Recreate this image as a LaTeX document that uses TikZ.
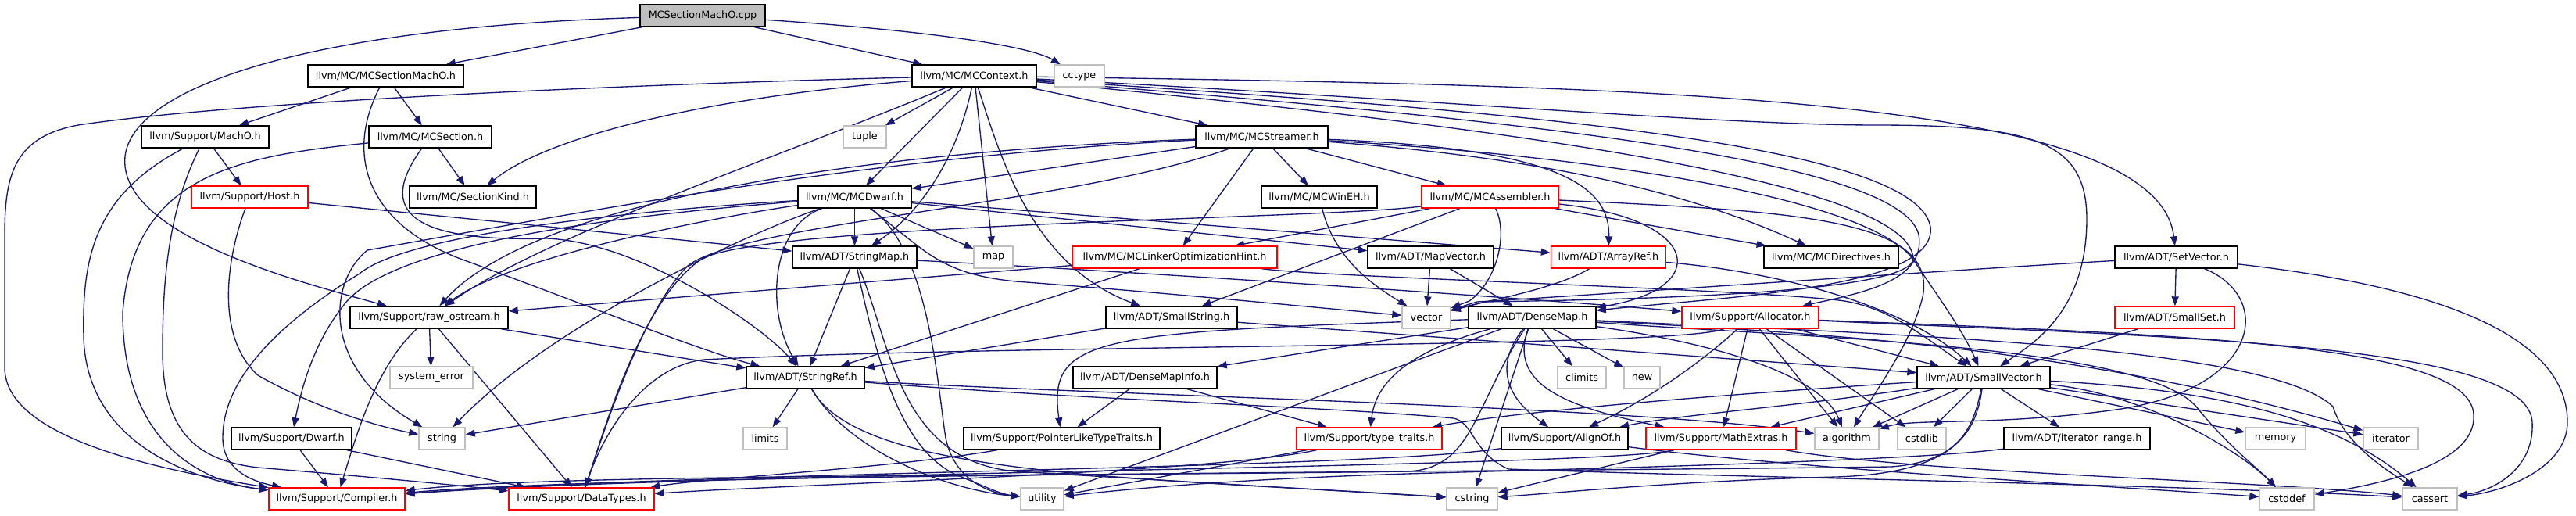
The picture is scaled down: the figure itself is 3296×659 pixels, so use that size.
\documentclass[tikz,border=0pt]{standalone}
\usepackage{fontspec}
\setmainfont{DejaVu Sans}
\usetikzlibrary{arrows.meta}
\definecolor{edgeblue}{HTML}{191970}
\definecolor{sysgray}{HTML}{BFBFBF}
\definecolor{truncred}{HTML}{FF0000}
\pgfdeclarelayer{edges}
\pgfsetlayers{edges,main}
\begin{document}
\begin{tikzpicture}[x=1pt,y=-1pt,
  nb/.style={rectangle, minimum height=28pt, inner sep=0pt, font=\fontsize{12.8}{15}\selectfont, fill=white, text=black},
  blk/.style={nb, draw=black, line width=1.4pt},
  trn/.style={nb, draw=truncred, line width=1.4pt},
  sys/.style={nb, draw=sysgray, line width=1.4pt},
  lnk/.style={draw=edgeblue, line width=1.35pt, -{Triangle[length=12pt,width=9pt]}},
]
\useasboundingbox (0,0) rectangle (3296,659);
% ---------- nodes ----------
\node[blk, fill=sysgray, minimum width=160pt] (cpp) at (899,20) {MCSectionMachO.cpp};
\node[blk, minimum width=199pt] (secmh) at (493.5,97) {llvm/MC/MCSectionMachO.h};
\node[blk, minimum width=159pt] (ctx) at (1246.5,97) {llvm/MC/MCContext.h};
\node[sys, minimum width=64pt] (cctype) at (1381,97) {cctype};
\node[blk, minimum width=163pt] (macho) at (262.5,175) {llvm/Support/MachO.h};
\node[blk, minimum width=157pt] (mcsec) at (550.5,175) {llvm/MC/MCSection.h};
\node[sys, minimum width=55pt] (tuple) at (1106.5,175) {tuple};
\node[blk, minimum width=169pt] (strm) at (1614.5,175) {llvm/MC/MCStreamer.h};
\node[trn, minimum width=149pt] (host) at (319.5,252) {llvm/Support/Host.h};
\node[blk, minimum width=162pt] (seck) at (605,252) {llvm/MC/SectionKind.h};
\node[blk, minimum width=145pt] (dwarf) at (1093.5,252) {llvm/MC/MCDwarf.h};
\node[blk, minimum width=148pt] (wineh) at (1688,252) {llvm/MC/MCWinEH.h};
\node[trn, minimum width=175pt] (asm) at (1906.5,252) {llvm/MC/MCAssembler.h};
\node[blk, minimum width=159pt] (smap) at (1093.5,329) {llvm/ADT/StringMap.h};
\node[sys, minimum width=50pt] (map) at (1271,329) {map};
\node[trn, minimum width=262pt] (loh) at (1503,329) {llvm/MC/MCLinkerOptimizationHint.h};
\node[blk, minimum width=161pt] (mapv) at (1830.5,329) {llvm/ADT/MapVector.h};
\node[trn, minimum width=147pt] (aref) at (2058,329) {llvm/ADT/ArrayRef.h};
\node[blk, minimum width=172pt] (dir) at (2343,329) {llvm/MC/MCDirectives.h};
\node[blk, minimum width=157pt] (setv) at (2784.5,329) {llvm/ADT/SetVector.h};
\node[blk, minimum width=202pt] (raw) at (549,406) {llvm/Support/raw\_ostream.h};
\node[blk, minimum width=168pt] (sstr) at (1499,406) {llvm/ADT/SmallString.h};
\node[sys, minimum width=62pt] (vector) at (1825,406) {vector};
\node[blk, minimum width=163pt] (dmap) at (1960.5,406) {llvm/ADT/DenseMap.h};
\node[trn, minimum width=175pt] (alloc) at (2239.5,406) {llvm/Support/Allocator.h};
\node[trn, minimum width=153pt] (sset) at (2782.5,406) {llvm/ADT/SmallSet.h};
\node[sys, minimum width=106pt] (syserr) at (552,483) {system\_error};
\node[blk, minimum width=151pt] (sref) at (1030.5,483) {llvm/ADT/StringRef.h};
\node[blk, minimum width=184pt] (dmi) at (1465,483) {llvm/ADT/DenseMapInfo.h};
\node[sys, minimum width=62pt] (climits) at (2024,483) {climits};
\node[sys, minimum width=46pt] (new) at (2101,483) {new};
\node[blk, minimum width=170pt] (svec) at (2538,483) {llvm/ADT/SmallVector.h};
\node[blk, minimum width=154pt] (sdwarf) at (373,561) {llvm/Support/Dwarf.h};
\node[sys, minimum width=59pt] (string) at (565.5,561) {string};
\node[sys, minimum width=56pt] (limits) at (979,561) {limits};
\node[blk, minimum width=251pt] (pltt) at (1358.5,561) {llvm/Support/PointerLikeTypeTraits.h};
\node[trn, minimum width=186pt] (tt) at (1752,561) {llvm/Support/type\_traits.h};
\node[blk, minimum width=162pt] (alignof) at (2002,561) {llvm/Support/AlignOf.h};
\node[trn, minimum width=192pt] (mathx) at (2202,561) {llvm/Support/MathExtras.h};
\node[sys, minimum width=82pt] (algorithm) at (2363,561) {algorithm};
\node[sys, minimum width=62pt] (cstdlib) at (2459,561) {cstdlib};
\node[blk, minimum width=187pt] (irange) at (2657.5,561) {llvm/ADT/iterator\_range.h};
\node[sys, minimum width=77pt] (memory) at (2911.5,561) {memory};
\node[sys, minimum width=70pt] (iterator) at (3059,561) {iterator};
\node[trn, minimum width=174pt] (comp) at (431,638) {llvm/Support/Compiler.h};
\node[trn, minimum width=186pt] (dtypes) at (744,638) {llvm/Support/DataTypes.h};
\node[sys, minimum width=55pt] (utility) at (1333.5,638) {utility};
\node[sys, minimum width=65pt] (cstring) at (1883.5,638) {cstring};
\node[sys, minimum width=70pt] (cstddef) at (2926,638) {cstddef};
\node[sys, minimum width=70pt] (cassert) at (3109,638) {cassert};
% ---------- edges ----------
\begin{pgfonlayer}{edges}
\fill[white] (0,0) rectangle (3296,659);
% cpp
\draw[lnk] (cpp) -- (secmh);
\draw[lnk] (cpp) -- (ctx);
\draw[lnk] (cpp) .. controls (1200,40) and (1320,60) .. (cctype);
\draw[lnk] (cpp) .. controls (400,35) and (170,110) .. (160,200) .. controls (150,300) and (380,360) .. (raw);
% MCSectionMachO.h
\draw[lnk] (secmh) -- (macho);
\draw[lnk] (secmh) -- (mcsec);
\draw[lnk] (secmh) .. controls (440,200) and (470,290) .. (600,335) .. controls (750,390) and (900,450) .. (sref);
% MCSection.h
\draw[lnk] (mcsec) -- (seck);
\draw[lnk] (mcsec) .. controls (300,200) and (170,225) .. (157,400) .. controls (157,560) and (250,615) .. (comp);
\draw[lnk] (mcsec) .. controls (485,265) and (515,310) .. (700,305) .. controls (820,310) and (980,420) .. (sref);
% MachO.h
\draw[lnk] (macho) -- (host);
\draw[lnk] (macho) .. controls (120,250) and (105,330) .. (107,430) .. controls (110,570) and (250,615) .. (comp);
\draw[lnk] (macho) .. controls (215,270) and (208,360) .. (208,450) .. controls (208,560) and (260,590) .. (330,598) .. controls (450,608) and (560,618) .. (dtypes);
% Host.h
\draw[lnk] (host) -- (smap);
\draw[lnk] (host) .. controls (290,330) and (275,430) .. (330,480) .. controls (400,520) and (480,545) .. (string);
% MCContext.h
\draw[lnk] (ctx) .. controls (800,108) and (300,130) .. (100,160) .. controls (20,175) and (6,220) .. (6,300) -- (6,470) .. controls (6,560) and (200,600) .. (comp);
\draw[lnk] (ctx) .. controls (900,125) and (700,175) .. (seck);
\draw[lnk] (ctx) .. controls (1000,200) and (700,300) .. (raw);
\draw[lnk] (ctx) -- (tuple);
\draw[lnk] (ctx) -- (dwarf);
\draw[lnk] (ctx) .. controls (1225,200) and (1180,270) .. (smap);
\draw[lnk] (ctx) -- (map);
\draw[lnk] (ctx) .. controls (1280,200) and (1320,340) .. (sstr);
\draw[lnk] (ctx) -- (strm);
\draw[lnk] (ctx) .. controls (2100,110) and (2760,120) .. (setv);
\draw[lnk] (ctx) .. controls (1800,125) and (2200,160) .. (2400,160) .. controls (2600,160) and (2670,180) .. (2670,280) .. controls (2670,400) and (2600,440) .. (svec);
\draw[lnk] (ctx) .. controls (1900,140) and (2450,180) .. (2470,290) .. controls (2480,370) and (2200,380) .. (dmap);
\draw[lnk] (ctx) .. controls (1900,150) and (2430,200) .. (2455,300) .. controls (2465,360) and (2380,375) .. (alloc);
\draw[lnk] (ctx) .. controls (1900,160) and (2440,230) .. (2448,330) .. controls (2450,375) and (2100,383) .. (1900,386) -- (vector);
% MCStreamer.h
\draw[lnk] (strm) -- (dwarf);
\draw[lnk] (strm) .. controls (1200,190) and (700,240) .. (raw);
\draw[lnk] (strm) .. controls (1100,200) and (700,280) .. (470,320) .. controls (420,360) and (410,470) .. (string);
\draw[lnk] (strm) .. controls (1380,260) and (950,285) .. (880,340) .. controls (820,400) and (770,560) .. (dtypes);
\draw[lnk] (strm) -- (loh);
\draw[lnk] (strm) -- (wineh);
\draw[lnk] (strm) -- (asm);
\draw[lnk] (strm) .. controls (2000,190) and (2060,240) .. (aref);
\draw[lnk] (strm) .. controls (1950,200) and (2150,240) .. (dir);
\draw[lnk] (strm) .. controls (2050,200) and (2400,255) .. (2450,335) .. controls (2480,380) and (2510,420) .. (svec);
% MCDwarf.h
\draw[lnk] (dwarf) -- (map);
\draw[lnk] (dwarf) -- (mapv);
\draw[lnk] (dwarf) -- (aref);
\draw[lnk] (dwarf) -- (smap);
\draw[lnk] (dwarf) .. controls (985,290) and (980,400) .. (sref);
\draw[lnk] (dwarf) .. controls (800,270) and (520,300) .. (460,350) .. controls (330,430) and (285,500) .. (285,560) .. controls (285,600) and (320,615) .. (comp);
\draw[lnk] (dwarf) .. controls (800,275) and (500,310) .. (440,390) .. controls (400,440) and (385,500) .. (sdwarf);
\draw[lnk] (dwarf) .. controls (900,280) and (650,330) .. (raw);
\draw[lnk] (dwarf) .. controls (950,300) and (700,420) .. (string);
\draw[lnk] (dwarf) .. controls (1190,320) and (1200,500) .. (1210,560) .. controls (1220,610) and (1260,630) .. (utility);
\draw[lnk] (dwarf) .. controls (1185,320) and (1200,350) .. (1300,360) .. controls (1500,375) and (1700,395) .. (vector);
% MCAssembler.h
\draw[lnk] (asm) -- (loh);
\draw[lnk] (asm) -- (sstr);
\draw[lnk] (asm) .. controls (1930,300) and (1915,360) .. (1880,385) -- (vector);
\draw[lnk] (asm) .. controls (2180,280) and (2190,370) .. (dmap);
\draw[lnk] (asm) -- (dir);
\draw[lnk] (asm) .. controls (2300,270) and (2480,280) .. (2460,380) .. controls (2445,440) and (2400,500) .. (algorithm);
\draw[lnk] (asm) .. controls (1700,280) and (1000,285) .. (900,330) .. controls (820,380) and (770,560) .. (dtypes);
% MCLinkerOptimizationHint.h
\draw[lnk] (loh) -- (raw);
\draw[lnk] (loh) -- (sref);
\draw[lnk] (loh) .. controls (1700,355) and (2250,370) .. (2360,385) .. controls (2420,395) and (2460,430) .. (svec);
% SmallString.h
\draw[lnk] (sstr) -- (sref);
\draw[lnk] (sstr) -- (svec);
% StringMap.h
\draw[lnk] (smap) -- (sref);
\draw[lnk] (smap) .. controls (1500,350) and (2000,385) .. (alloc);
\draw[lnk] (smap) .. controls (1140,440) and (1150,590) .. (1300,603) .. controls (1500,615) and (1750,630) .. (cstring);
\draw[lnk] (smap) .. controls (1120,450) and (1150,580) .. (1230,610) .. controls (1260,622) and (1280,632) .. (utility);
% SetVector.h
\draw[lnk] (setv) -- (sset);
\draw[lnk] (setv) .. controls (2500,345) and (2000,380) .. (1890,386) -- (vector);
\draw[lnk] (setv) .. controls (3150,370) and (3285,440) .. (3285,540) .. controls (3285,600) and (3200,630) .. (cassert);
\draw[lnk] (setv) .. controls (2910,380) and (2895,500) .. (2700,525) .. controls (2550,545) and (2450,535) .. (algorithm);
% SmallSet.h
\draw[lnk] (sset) -- (svec);
% raw_ostream.h
\draw[lnk] (raw) -- (sref);
\draw[lnk] (raw) -- (syserr);
\draw[lnk] (raw) .. controls (480,470) and (455,560) .. (comp);
\draw[lnk] (raw) -- (dtypes);
% Support/Dwarf.h
\draw[lnk] (sdwarf) -- (comp);
\draw[lnk] (sdwarf) -- (dtypes);
% StringRef.h
\draw[lnk] (sref) -- (string);
\draw[lnk] (sref) -- (limits);
\draw[lnk] (sref) .. controls (1400,505) and (2100,520) .. (algorithm);
\draw[lnk] (sref) .. controls (1400,512) and (1700,520) .. (1860,535) .. controls (1885,540) and (1885,580) .. (1930,600) .. controls (2200,610) and (2800,620) .. (cassert);
\draw[lnk] (sref) .. controls (1100,610) and (1450,610) .. (cstring);
\draw[lnk] (sref) .. controls (1080,570) and (1200,625) .. (utility);
% DenseMap.h
\draw[lnk] (dmap) -- (dmi);
\draw[lnk] (dmap) .. controls (1400,425) and (1340,430) .. (pltt);
\draw[lnk] (dmap) .. controls (1800,450) and (1760,490) .. (tt);
\draw[lnk] (dmap) .. controls (1910,470) and (1930,510) .. (alignof);
\draw[lnk] (dmap) .. controls (1930,490) and (2000,520) .. (mathx);
\draw[lnk] (dmap) -- (climits);
\draw[lnk] (dmap) -- (new);
\draw[lnk] (dmap) .. controls (1885,520) and (1885,600) .. (1800,603) .. controls (1300,610) and (700,606) .. (comp);
\draw[lnk] (dmap) -- (utility);
\draw[lnk] (dmap) -- (cstring);
\draw[lnk] (dmap) .. controls (2300,425) and (2650,440) .. (iterator);
\draw[lnk] (dmap) .. controls (2300,432) and (2740,440) .. (2810,520) .. controls (2850,570) and (2890,600) .. (cstddef);
\draw[lnk] (dmap) .. controls (2400,427) and (2900,440) .. (2985,520) .. controls (3000,570) and (3060,605) .. (cassert);
\draw[lnk] (dmap) .. controls (2200,440) and (2330,480) .. (algorithm);
% SmallVector.h
\draw[lnk] (svec) -- (irange);
\draw[lnk] (svec) -- (cstdlib);
\draw[lnk] (svec) -- (algorithm);
\draw[lnk] (svec) -- (mathx);
\draw[lnk] (svec) -- (memory);
\draw[lnk] (svec) -- (iterator);
\draw[lnk] (svec) .. controls (2300,520) and (2150,530) .. (alignof);
\draw[lnk] (svec) .. controls (2200,505) and (1950,525) .. (tt);
\draw[lnk] (svec) .. controls (2525,545) and (2510,590) .. (2420,597) .. controls (1800,605) and (800,606) .. (comp);
\draw[lnk] (svec) .. controls (2528,555) and (2500,605) .. (2350,610) .. controls (2150,615) and (2000,630) .. (cstring);
\draw[lnk] (svec) .. controls (2750,505) and (2870,580) .. (cstddef);
\draw[lnk] (svec) .. controls (2870,500) and (3000,545) .. (cassert);
% Allocator.h
\draw[lnk] (alloc) -- (svec);
\draw[lnk] (alloc) .. controls (2180,460) and (2120,505) .. (alignof);
\draw[lnk] (alloc) -- (mathx);
\draw[lnk] (alloc) -- (algorithm);
\draw[lnk] (alloc) -- (cstdlib);
\draw[lnk] (alloc) .. controls (2150,445) and (1300,440) .. (900,460) .. controls (820,470) and (770,560) .. (dtypes);
\draw[lnk] (alloc) .. controls (2800,432) and (3235,440) .. (3240,540) .. controls (3243,600) and (3190,628) .. (cassert);
\draw[lnk] (alloc) .. controls (2800,428) and (3160,440) .. (3165,530) .. controls (3170,595) and (3040,620) .. (cstddef);
% AlignOf.h
\draw[lnk] (alignof) .. controls (1750,600) and (900,603) .. (comp);
\draw[lnk] (alignof) .. controls (2300,600) and (2750,625) .. (cstddef);
% MathExtras.h
\draw[lnk] (mathx) .. controls (2050,598) and (900,604) .. (comp);
\draw[lnk] (mathx) -- (cstring);
\draw[lnk] (mathx) .. controls (2450,605) and (2900,615) .. (cassert);
% DenseMapInfo.h
\draw[lnk] (dmi) -- (pltt);
\draw[lnk] (dmi) -- (tt);
% PointerLikeTypeTraits.h
\draw[lnk] (pltt) .. controls (1150,598) and (900,612) .. (dtypes);
% type_traits.h
\draw[lnk] (tt) -- (utility);
\draw[lnk] (tt) .. controls (1550,605) and (1000,620) .. (dtypes);
% iterator_range.h
\draw[lnk] (irange) .. controls (2450,590) and (2000,600) .. (1800,606) .. controls (1550,614) and (1420,628) .. (utility);
% ArrayRef.h
\draw[lnk] (aref) .. controls (1990,370) and (1900,385) .. (vector);
\draw[lnk] (aref) .. controls (2300,350) and (2450,400) .. (svec);
% MapVector.h
\draw[lnk] (mapv) -- (vector);
\draw[lnk] (mapv) -- (dmap);
% MCWinEH.h
\draw[lnk] (wineh) .. controls (1705,320) and (1740,355) .. (vector);
\end{pgfonlayer}
\end{tikzpicture}
\end{document}
